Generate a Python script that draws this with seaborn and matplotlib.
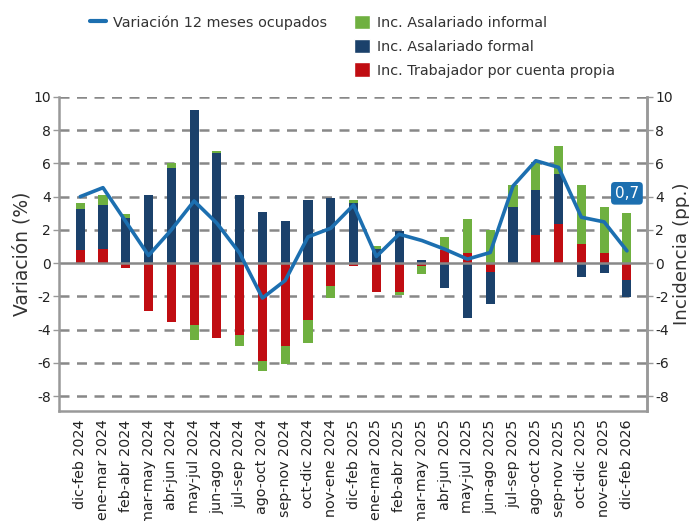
import numpy as np
import pandas as pd
import matplotlib
matplotlib.use("Agg")
import matplotlib.pyplot as plt
import seaborn as sns
from matplotlib.patches import Patch
from matplotlib.lines import Line2D

periods = ["dic-feb 2024", "ene-mar 2024", "feb-abr 2024", "mar-may 2024", "abr-jun 2024",
           "may-jul 2024", "jun-ago 2024", "jul-sep 2024", "ago-oct 2024", "sep-nov 2024",
           "oct-dic 2024", "nov-ene 2024", "dic-feb 2025", "ene-mar 2025", "feb-abr 2025",
           "mar-may 2025", "abr-jun 2025", "may-jul 2025", "jun-ago 2025", "jul-sep 2025",
           "ago-oct 2025", "sep-nov 2025", "oct-dic 2025", "nov-ene 2025", "dic-feb 2026"]

cuenta_propia = [0.80, 0.84, -0.30, -2.86, -3.52, -3.70, -4.52, -4.34, -5.86, -4.96,
                 -3.40, -1.36, -0.16, -1.72, -1.72, -0.20, 0.80, 0.60, -0.54, 0.00,
                 1.70, 2.36, 1.18, 0.60, -1.04]
formal = [2.48, 2.64, 2.72, 4.08, 5.70, 9.24, 6.60, 4.10, 3.10, 2.52,
          3.78, 3.94, 3.64, 0.88, 1.94, 0.20, -1.52, -3.30, -1.92, 3.38,
          2.70, 3.00, -0.86, -0.60, -0.98]
informal = [0.32, 0.60, 0.24, 0.00, 0.34, -0.90, 0.14, -0.64, -0.64, -1.12,
            -1.38, -0.76, 0.18, 0.16, -0.22, -0.48, 0.76, 2.04, 2.00, 1.34,
            1.70, 1.68, 3.50, 2.80, 3.04]
variacion = [4.00, 4.54, 2.50, 0.46, 2.00, 3.74, 2.40, 0.60, -2.10, -1.04,
             1.58, 2.10, 3.50, 0.40, 1.74, 1.36, 0.84, 0.24, 0.64, 4.64,
             6.16, 5.76, 2.76, 2.48, 0.74]

series = [("Inc. Trabajador por cuenta propia", cuenta_propia, "#c00d12"),
          ("Inc. Asalariado formal", formal, "#1b416b"),
          ("Inc. Asalariado informal", informal, "#6fb040")]
line_color = "#1c6fb0"
grid_color = "#888888"
spine_color = "#999999"

sns.set_style("white")
plt.rcParams['font.family'] = ['DejaVu Sans']

fig = plt.figure(figsize=(6.89, 5.21), dpi=100)
ax = fig.add_axes([0.086, 0.211, 0.853, 0.603])

pos_base = np.zeros(len(periods))
neg_base = np.zeros(len(periods))
for name, vals, col in series:
    v = np.array(vals, dtype=float)
    bottom = np.where(v >= 0, pos_base, neg_base)
    df = pd.DataFrame({"periodo": periods, "valor": v})
    sns.barplot(data=df, x="periodo", y="valor", bottom=bottom, color=col,
                width=0.4, saturation=1, linewidth=0, ax=ax, errorbar=None)
    pos_base = pos_base + np.where(v >= 0, v, 0)
    neg_base = neg_base + np.where(v < 0, v, 0)

# grid lines
for yv in range(-8, 11, 2):
    if yv == 0:
        continue
    ax.axhline(yv, color=grid_color, lw=1.8, ls=(0, (4, 3)), zorder=0)
ax.axhline(0, color=grid_color, lw=1.8, zorder=1.5)

sns.lineplot(x=np.arange(len(periods)), y=variacion, color=line_color, lw=2.6, ax=ax, zorder=5)

ax.annotate("0,7", xy=(24, 4.2), ha="center", va="center", color="white", fontsize=11,
            bbox=dict(boxstyle="round,pad=0.25", fc=line_color, ec="none"), zorder=6,
            annotation_clip=False)

ax.set_xlim(-0.92, 24.88)
ax.set_ylim(-8.9, 10)
ax.set_yticks(range(-8, 11, 2))
ax.set_yticklabels([str(t) for t in range(-8, 11, 2)], fontsize=10)
ax.set_xticks(range(len(periods)))
ax.set_xticklabels(periods, rotation=90, fontsize=10.3)
ax.set_xlabel("")
ax.set_ylabel("Variación (%)", fontsize=13.5, color="#333333", labelpad=1)
ax.tick_params(axis="both", direction="out", length=4, color=spine_color, width=1, labelcolor="#222222")
ax.tick_params(axis="x", pad=2)
ax.tick_params(axis="y", pad=2)

for s in ["top"]:
    ax.spines[s].set_visible(False)
for s in ["left", "bottom", "right"]:
    ax.spines[s].set_visible(True)
    ax.spines[s].set_color(spine_color)
    ax.spines[s].set_linewidth(1.8)

ax2 = ax.twinx()
ax2.set_ylim(-8.9, 10)
ax2.set_yticks(range(-8, 11, 2))
ax2.set_yticklabels([str(t) for t in range(-8, 11, 2)], fontsize=10)
ax2.set_ylabel("Incidencia (pp.)", fontsize=13.2, color="#333333", labelpad=0)
ax2.tick_params(axis="y", direction="out", length=4, color=spine_color, width=1, labelcolor="#222222", pad=2)
for s in ["top", "left", "bottom"]:
    ax2.spines[s].set_visible(False)
ax2.spines["right"].set_color(spine_color)
ax2.spines["right"].set_linewidth(1.8)

blank = Patch(facecolor="none", edgecolor="none", label="")
handles = [Line2D([], [], color=line_color, lw=3),
           blank, blank,
           Patch(facecolor=series[2][2], label=series[2][0]),
           Patch(facecolor=series[1][2], label=series[1][0]),
           Patch(facecolor=series[0][2], label=series[0][0])]
labels = ["Variación 12 meses ocupados", "", "", series[2][0], series[1][0], series[0][0]]
fig.legend(handles, labels, ncol=2, loc="upper left", bbox_to_anchor=(0.112, 0.997),
           frameon=False, fontsize=10.4, handlelength=1.1, handleheight=1.2,
           handletextpad=0.5, columnspacing=1.85, labelspacing=0.6, labelcolor="#333333")

fig.savefig("out.png", dpi=100)
